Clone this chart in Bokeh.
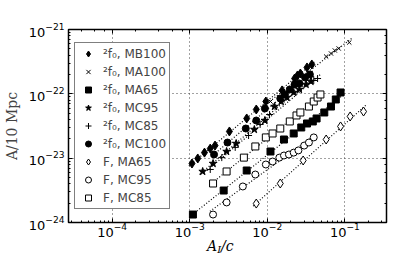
import numpy as np
from bokeh.plotting import figure
from bokeh.layouts import column
from bokeh.models import LogAxis, Legend, LegendItem, Range1d, LogTicker, Div
from bokeh.embed import file_html
from bokeh.resources import INLINE

# ---- data ----
mb100_x = [1.07e-3, 1.27e-3, 1.55e-3, 1.84e-3, 2.12e-3, 3.25e-3, 5.43e-3, 7.21e-3, 9.58e-3, 1.55e-2, 2.25e-2, 2.45e-2, 2.67e-2, 3.25e-2, 3.75e-2]
mb100_y = [8.26e-24, 9.89e-24, 1.22e-23, 1.41e-23, 1.57e-23, 2.60e-23, 4.14e-23, 5.71e-23, 7.60e-23, 1.13e-22, 1.73e-22, 1.93e-22, 2.07e-22, 2.57e-22, 2.86e-22]

ma100_x = [1.10e-2, 5.74e-2, 6.62e-2, 7.42e-2, 8.32e-2, 0.114]
ma100_y = [7.60e-23, 3.80e-22, 4.24e-22, 4.72e-22, 5.07e-22, 6.28e-22]

ma65_x = [1.10e-3, 2.74e-3, 5.43e-3, 1.10e-2, 1.64e-2, 2.19e-2, 2.74e-2, 3.25e-2, 3.86e-2, 4.32e-2, 5.43e-2, 6.62e-2, 7.64e-2, 8.80e-2]
ma65_y = [1.33e-24, 3.14e-24, 6.43e-24, 1.27e-23, 1.95e-23, 2.42e-23, 3.00e-23, 3.46e-23, 3.72e-23, 4.14e-23, 5.13e-23, 6.35e-23, 8.17e-23, 1.05e-22]

mc95_x = [1.47e-3, 2.00e-3, 2.99e-3, 3.97e-3, 6.81e-3, 9.31e-3, 1.24e-2, 1.51e-2, 1.79e-2, 2.19e-2, 2.59e-2, 3.16e-2, 3.65e-2]
mc95_y = [6.21e-24, 8.26e-24, 1.27e-23, 1.69e-23, 2.79e-23, 3.85e-23, 6.35e-23, 7.60e-23, 8.77e-23, 1.05e-22, 1.17e-22, 1.40e-22, 1.56e-22]

mc85_x = [1.84e-3, 2.59e-3, 3.86e-3, 5.74e-3, 8.08e-3, 1.07e-2, 3.97e-2, 4.45e-2]
mc85_y = [6.67e-24, 1.02e-23, 1.47e-23, 2.25e-23, 3.34e-23, 4.77e-23, 1.61e-22, 1.73e-22]

mc100_x = [2.06e-3, 3.07e-3, 5.28e-3, 7.21e-3, 9.31e-3, 1.47e-2, 1.69e-2, 1.95e-2, 2.25e-2, 2.59e-2, 3.07e-2, 3.54e-2]
mc100_y = [1.14e-23, 1.75e-23, 2.89e-23, 3.85e-23, 5.92e-23, 8.47e-23, 9.77e-23, 1.17e-22, 1.40e-22, 1.45e-22, 1.79e-22, 2.00e-22]

f_ma65_x = [7.21e-3, 1.47e-2, 2.90e-2, 5.74e-2, 8.80e-2, 0.117, 0.174]
f_ma65_y = [1.97e-24, 4.04e-24, 9.20e-24, 1.95e-23, 3.11e-23, 4.45e-23, 5.31e-23]

f_mc95_x = [2.00e-3, 2.99e-3, 4.84e-3, 7.01e-3, 9.58e-3, 1.17e-2, 1.43e-2, 1.64e-2, 1.90e-2, 2.19e-2, 2.52e-2, 2.99e-2, 3.44e-2, 3.97e-2]
f_mc95_y = [1.33e-24, 2.05e-24, 3.63e-24, 5.57e-24, 7.97e-24, 8.87e-24, 1.02e-23, 1.10e-23, 1.14e-23, 1.22e-23, 1.32e-23, 1.57e-23, 1.75e-23, 2.10e-23]

f_mc85_x = [2.00e-3, 2.99e-3, 4.99e-3, 7.01e-3, 9.58e-3, 1.17e-2, 1.47e-2, 1.95e-2, 2.38e-2, 2.67e-2, 3.44e-2, 3.97e-2, 4.45e-2, 4.84e-2]
f_mc85_y = [4.04e-24, 6.21e-24, 1.02e-23, 1.52e-23, 2.10e-23, 2.42e-23, 2.89e-23, 3.72e-23, 4.61e-23, 5.13e-23, 6.35e-23, 7.60e-23, 8.77e-23, 9.77e-23]

labels = ["²f₀, MB100", "²f₀, MA100", "²f₀, MA65", "²f₀, MC95", "²f₀, MC85",
          "²f₀, MC100", "F, MA65", "F, MC95", "F, MC85"]

series = [
    (mb100_x, mb100_y, "diamond", 9, True),
    (ma100_x, ma100_y, "x", 6, False),
    (ma65_x, ma65_y, "square", 7, True),
    (mc95_x, mc95_y, "star", 8, True),
    (mc85_x, mc85_y, "cross", 7, False),
    (mc100_x, mc100_y, "circle", 7, True),
    (f_ma65_x, f_ma65_y, "diamond", 9, False),
    (f_mc95_x, f_mc95_y, "circle", 7, False),
    (f_mc85_x, f_mc85_y, "square", 7, False),
]

p = figure(width=405, height=245, x_axis_type="log", y_axis_type="log",
           x_range=Range1d(2.74e-5, 0.344), y_range=Range1d(1e-24, 1e-21),
           output_backend="svg", toolbar_location=None,
           min_border_left=54, min_border_right=19, min_border_top=29, min_border_bottom=23)
p.background_fill_color = "white"
p.border_fill_color = "white"
p.outline_line_color = "black"
p.outline_line_width = 1.5

for g in (p.xgrid, p.ygrid):
    g.grid_line_color = "#444444"
    g.grid_line_dash = "1 3"
    g.grid_line_width = 1

def style_axis(ax, labels_on=True):
    ax.axis_line_color = "black"
    ax.axis_line_width = 1
    ax.major_tick_in = 4
    ax.major_tick_out = 0
    ax.minor_tick_in = 2
    ax.minor_tick_out = 0
    ax.major_tick_line_color = "black"
    ax.minor_tick_line_color = "black"
    ax.major_label_text_font = "DejaVu Sans"
    ax.major_label_text_font_size = "13px"
    ax.major_label_text_color = "black" if labels_on else None
    ax.major_label_standoff = 4

style_axis(p.xaxis[0])
p.xaxis[0].major_label_standoff = 0
style_axis(p.yaxis[0])
p.yaxis[0].axis_label = "A/10 Mpc"
p.yaxis[0].axis_label_text_font = "DejaVu Serif"
p.yaxis[0].axis_label_text_font_style = "normal"
p.yaxis[0].axis_label_text_font_size = "14px"
p.yaxis[0].axis_label_standoff = 6

top = LogAxis(ticker=LogTicker())
style_axis(top, False)
top.major_label_text_font_size = "0px"
p.add_layout(top, "above")
right = LogAxis(ticker=LogTicker())
style_axis(right, False)
right.major_label_text_font_size = "0px"
p.add_layout(right, "right")

items = []
for (xs, ys, mk, sz, filled), lab in zip(series, labels):
    lx = np.log10(xs)
    ly = np.log10(ys)
    k, b = np.polyfit(lx, ly, 1)
    ex = np.array([lx.min() - 0.04, lx.max() + 0.04])
    p.line(10 ** ex, 10 ** (k * ex + b), line_color="black", line_dash="1 2", line_width=1.2)
for (xs, ys, mk, sz, filled), lab in zip(series, labels):
    r = p.scatter(xs, ys, marker=mk, size=sz, line_color="black", line_width=1,
                  fill_color="black" if filled else "white")
    items.append(LegendItem(label=lab, renderers=[r]))

legend = Legend(items=items, location=(6, 13))
legend.border_line_color = "black"
legend.border_line_width = 1.5
legend.background_fill_color = "white"
legend.background_fill_alpha = 1.0
legend.label_text_font = "DejaVu Sans"
legend.label_text_font_size = "12px"
legend.glyph_width = 20
legend.glyph_height = 15
legend.label_height = 15
legend.spacing = 3
legend.padding = 3
legend.margin = 0
legend.label_standoff = 5
p.add_layout(legend)

xlabel = Div(
    text='<div style="position:relative; top:-6px; margin-left:207px; font-family:\'DejaVu Serif\'; '
         'font-size:14px; font-style:italic; color:black; line-height:14px; white-space:nowrap;">'
         'A<span style="font-size:10px; position:relative; top:2px;">I</span>/c</div>',
    width=405, height=9, margin=0)

layout = column(p, xlabel, spacing=0)
open("out.html", "w").write(file_html(layout, INLINE))
